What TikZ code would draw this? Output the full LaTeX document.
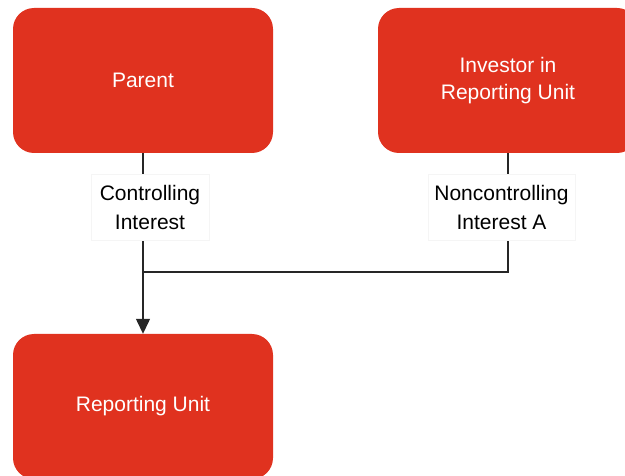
\documentclass[tikz,border=0pt]{standalone}
\usepackage{fontspec}
\setmainfont{Liberation Sans}
\usetikzlibrary{arrows.meta}
\definecolor{boxred}{HTML}{E0321F}
\begin{document}
\begin{tikzpicture}[x=1pt,y=-1pt,
  entity/.style={rectangle, rounded corners=21pt, fill=boxred, draw=none,
    minimum width=260pt, minimum height=145pt, inner sep=0pt,
    text=white, align=center, font=\fontsize{21}{27}\selectfont},
  lbl/.style={rectangle, fill=white, draw=black!4, inner sep=0pt,
    align=center, font=\fontsize{21}{29}\selectfont},
  link/.style={line width=1.3pt, draw=black!85}]
\useasboundingbox (0,0) rectangle (625,476);
\node[entity] (parent) at (143,80.5) {Parent};
\node[entity] (inv) at (508,80.5) {Investor in\\Reporting Unit};
\node[entity] (ru) at (143,406.5) {Reporting Unit};
\coordinate (j) at (143,272);
\draw[link, -{Triangle[width=14pt,length=15pt]}] (parent.south) -- (ru.north);
\draw[link] (inv.south) |- (j);
\node[lbl, minimum width=118pt, minimum height=66pt] (cl) at (150,207) {Controlling\\Interest};
\node[lbl, minimum width=147pt, minimum height=66pt] (ncl) at (501.5,207) {Noncontrolling\\Interest A};
\end{tikzpicture}
\end{document}
